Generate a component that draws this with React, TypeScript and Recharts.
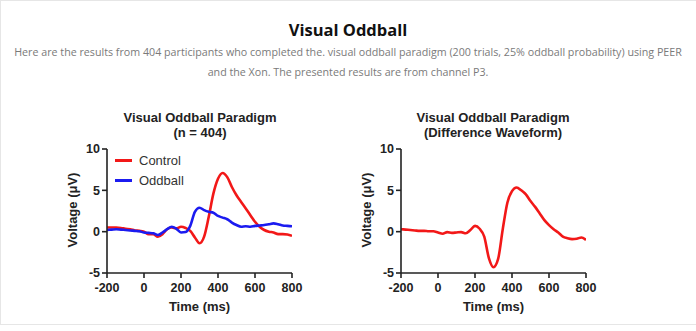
import React from "react";
import { LineChart, Line, XAxis, YAxis, Label } from "recharts";

const times = [-200,-175,-150,-125,-100,-75,-50,-25,0,25,50,75,100,125,150,175,200,225,250,275,300,325,350,375,400,425,450,475,500,525,550,575,600,625,650,675,700,725,750,775,800];
const controlValues = [0.5,0.5,0.5,0.45,0.35,0.3,0.15,0.1,0.0,-0.3,-0.3,-0.6,-0.3,0.3,0.5,0.4,0.6,0.45,0.1,-0.7,-1.4,-0.6,1.8,4.6,6.4,7.1,6.6,5.4,4.4,3.6,2.8,2.0,1.2,0.6,0.2,0.0,-0.1,-0.3,-0.3,-0.35,-0.5];
const oddballValues = [0.2,0.25,0.3,0.25,0.2,0.15,0.1,0.05,-0.1,-0.15,-0.2,-0.4,-0.1,0.3,0.6,0.35,-0.1,-0.05,0.7,2.4,2.9,2.6,2.4,2.3,1.9,1.7,1.5,1.1,0.8,0.6,0.65,0.6,0.7,0.75,0.8,0.9,1.0,0.9,0.75,0.7,0.65];
const differenceValues = [0.3,0.25,0.2,0.15,0.1,0.1,0.05,0.05,-0.1,-0.25,-0.05,-0.15,-0.1,-0.05,-0.2,0.2,0.7,0.35,-0.6,-3.2,-4.3,-3.3,0.3,3.5,4.9,5.35,5.0,4.5,3.7,3.0,2.2,1.4,0.8,0.3,-0.1,-0.6,-0.8,-0.9,-0.85,-0.7,-1.0];
const xTicks = [-200, 0, 200, 400, 600, 800];
const yTicks = [-5, 0, 5, 10];

const leftData = times.map((t, i) => ({ t, control: controlValues[i], oddball: oddballValues[i] }));
const rightData = times.map((t, i) => ({ t, diff: differenceValues[i] }));

const FONT = "'Liberation Sans', Arial, sans-serif";
const AX = "#222";
const tickStyle = { fontSize: 12.5, fontWeight: 700, fill: AX, fontFamily: FONT };

function renderAxes() {
  return [
    <XAxis
      key="x"
      dataKey="t"
      type="number"
      domain={[-200, 800]}
      ticks={xTicks}
      interval={0}
      tick={tickStyle}
      tickSize={5}
      tickMargin={5}
      height={30}
      stroke={AX}
      strokeWidth={1.6}
      allowDataOverflow
    >
      <Label value="Time (ms)" position="insideBottom" offset={-8} style={{ fontSize: 13, fontWeight: 700, fill: AX, fontFamily: FONT }} />
    </XAxis>,
    <YAxis
      key="y"
      type="number"
      domain={[-5, 10]}
      ticks={yTicks}
      interval={0}
      tick={tickStyle}
      tickSize={5}
      tickMargin={2}
      width={40}
      stroke={AX}
      strokeWidth={1.6}
      allowDataOverflow
    />,
  ];
}

const titleStyle: React.CSSProperties = {
  position: "absolute",
  fontFamily: FONT,
  fontWeight: 700,
  fontSize: 13,
  color: "#222",
  textAlign: "center",
  lineHeight: "15px",
  width: 240,
};

const yLabelStyle: React.CSSProperties = {
  position: "absolute",
  fontFamily: FONT,
  fontWeight: 700,
  fontSize: 13,
  color: "#222",
  transform: "translate(-50%, -50%) rotate(-90deg)",
  whiteSpace: "nowrap",
};

export default function App() {
  return (
    <div style={{ position: "absolute", left: 0, top: 0, width: 696, height: 331, background: "#fff", overflow: "hidden" }}>
      <div style={{ position: "absolute", left: 0, top: 0, width: 700, height: 325, border: "1px solid #e6e6e6", boxSizing: "border-box" }} />
      <div style={{ position: "absolute", left: 0, top: 19, width: 696, textAlign: "center", fontFamily: "'Open Sans', sans-serif", fontWeight: 700, fontSize: 16.5, color: "#111", lineHeight: "22px" }}>
        Visual Oddball
      </div>
      <div style={{ position: "absolute", left: 0, top: 42, width: 696, textAlign: "center", fontFamily: "'Open Sans', sans-serif", fontSize: 10.7, color: "#7a7a7a", lineHeight: "20px", whiteSpace: "nowrap" }}>
        Here are the results from 404 participants who completed the. visual oddball paradigm (200 trials, 25% oddball probability) using PEER
        <br />
        and the Xon. The presented results are from channel P3.
      </div>

      <div style={{ ...titleStyle, left: 200 - 120, top: 110 }}>
        Visual Oddball Paradigm
        <br />
        (n = 404)
      </div>
      <div style={{ ...titleStyle, left: 493 - 120, top: 110 }}>
        Visual Oddball Paradigm
        <br />
        (Difference Waveform)
      </div>
      <div style={{ ...yLabelStyle, left: 72, top: 210 }}>Voltage (μV)</div>
      <div style={{ ...yLabelStyle, left: 366, top: 210 }}>Voltage (μV)</div>

      <div style={{ position: "absolute", left: 0, top: 0 }}>
        <LineChart width={348} height={331} data={leftData} margin={{ top: 149, right: 56, bottom: 28, left: 67 }}>
          {renderAxes()}
          <Line type="monotone" dataKey="control" stroke="#f21818" strokeWidth={2.6} dot={false} isAnimationActive={false} />
          <Line type="monotone" dataKey="oddball" stroke="#1b1bf0" strokeWidth={2.6} dot={false} isAnimationActive={false} />
        </LineChart>
      </div>
      <div style={{ position: "absolute", left: 348, top: 0 }}>
        <LineChart width={348} height={331} data={rightData} margin={{ top: 149, right: 110, bottom: 28, left: 13 }}>
          {renderAxes()}
          <Line type="monotone" dataKey="diff" stroke="#f21818" strokeWidth={2.6} dot={false} isAnimationActive={false} />
        </LineChart>
      </div>

      <div style={{ position: "absolute", left: 115, top: 150, fontFamily: FONT, fontSize: 13, color: "#333" }}>
        {[
          { name: "Control", color: "#f21818" },
          { name: "Oddball", color: "#1b1bf0" },
        ].map((it) => (
          <div key={it.name} style={{ display: "flex", alignItems: "center", height: 20 }}>
            <span style={{ display: "inline-block", width: 17, height: 3, background: it.color, marginRight: 7 }} />
            {it.name}
          </div>
        ))}
      </div>
    </div>
  );
}
